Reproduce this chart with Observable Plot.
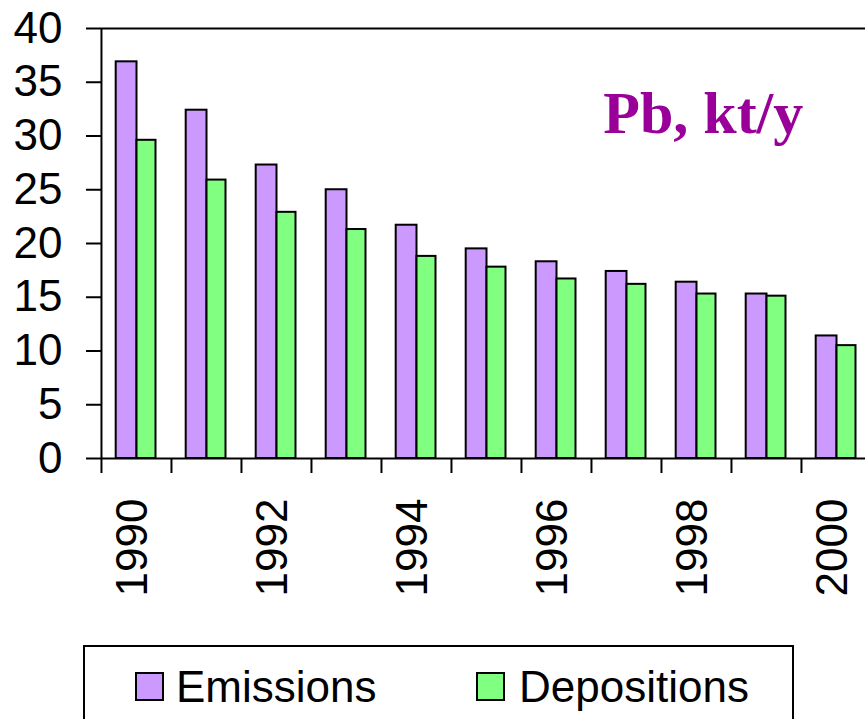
<!DOCTYPE html>
<html>
<head>
<meta charset="utf-8">
<script src="https://cdn.jsdelivr.net/npm/d3@7"></script>
<script src="https://cdn.jsdelivr.net/npm/@observablehq/plot@0.6"></script>
<style>
html, body { margin: 0; padding: 0; background: #fff; width: 865px; height: 719px; overflow: hidden; }
#chart { position: absolute; left: 0; top: 0; }
#legend { position: absolute; left: 83px; top: 645px; width: 711px; height: 100px; border: 2px solid #000; box-sizing: border-box; font-family: "Liberation Sans", Arial, sans-serif; font-size: 44px; color: #000; background: #fff; }
#legend .sw { position: absolute; top: 25px; width: 29px; height: 29px; border: 2px solid #000; box-sizing: border-box; }
#legend .lb { position: absolute; top: 18px; line-height: 44px; white-space: nowrap; }
</style>
</head>
<body>
<div id="chart"></div>
<div id="legend"></div>
<script>
// ---- data ----
const years = [1990, 1991, 1992, 1993, 1994, 1995, 1996, 1997, 1998, 1999, 2000];
const emissions = [36.9, 32.4, 27.3, 25.0, 21.7, 19.5, 18.3, 17.4, 16.4, 15.3, 11.4];
const depositions = [29.6, 25.9, 22.9, 21.3, 18.8, 17.8, 16.7, 16.2, 15.3, 15.1, 10.5];
const yTicks = [0, 5, 10, 15, 20, 25, 30, 35, 40];
const xLabelYears = [1990, 1992, 1994, 1996, 1998, 2000];
const seriesNames = ["Emissions", "Depositions"];
const seriesColors = ["#CC99FF", "#80FF80"];
const titleText = "Pb, kt/y";

// ---- layout ----
const W = 865, H = 640;
const mLeft = 101, mRight = -6.8, mTop = 28, mBottom = H - 458;
const bw = (W - mLeft - mRight) / years.length;

const emData = years.map((y, i) => ({year: y, value: emissions[i]}));
const depData = years.map((y, i) => ({year: y, value: depositions[i]}));

const chart = Plot.plot({
  width: W,
  height: H,
  marginLeft: mLeft,
  marginRight: mRight,
  marginTop: mTop,
  marginBottom: mBottom,
  style: {fontFamily: "'Liberation Sans', Arial, sans-serif", color: "#000", background: "#fff", overflow: "visible"},
  x: {type: "band", domain: years, padding: 0, axis: null, label: null},
  y: {domain: [0, 40], axis: null, label: null},
  marks: [
    Plot.barY(emData, {x: "year", y: "value", fill: seriesColors[0], stroke: "#000", strokeWidth: 2, insetLeft: 14.7, insetRight: 34.5}),
    Plot.barY(depData, {x: "year", y: "value", fill: seriesColors[1], stroke: "#000", strokeWidth: 2, insetLeft: 35.5, insetRight: 15.5}),
    Plot.ruleY([0], {stroke: "#000", strokeWidth: 2}),
    Plot.ruleY([40], {stroke: "#000", strokeWidth: 2}),
    Plot.ruleX([years[0]], {stroke: "#000", strokeWidth: 2, dx: -bw / 2}),
    Plot.axisY(yTicks, {label: null, tickSize: 15, tickPadding: 24, fontSize: 44, strokeWidth: 2, stroke: "#000", fill: "#000", tickFormat: d => String(d)}),
    Plot.axisX(years, {label: null, tickSize: 15, strokeWidth: 2, stroke: "#000", dx: -bw / 2, tickFormat: () => ""}),
    Plot.axisX(xLabelYears, {label: null, tickSize: 0, tickPadding: 40, rotate: -90, textAnchor: "end", lineAnchor: "middle", fontSize: 44, fill: "#000", dx: -4, tickFormat: d => String(d)}),
    Plot.text([titleText], {text: d => d, frameAnchor: "top-right", textAnchor: "end", lineAnchor: "middle", dx: -69, dy: 85, fontSize: 60, fontWeight: "bold", fontFamily: "'Liberation Serif', 'Times New Roman', serif", fill: "#990099"})
  ]
});
document.getElementById("chart").appendChild(chart);

// ---- legend ----
const legend = document.getElementById("legend");
const swLeft = [50, 391];
const lbLeft = [91, 434];
seriesNames.forEach((name, i) => {
  const sw = document.createElement("div");
  sw.className = "sw";
  sw.style.left = swLeft[i] + "px";
  sw.style.background = seriesColors[i];
  legend.appendChild(sw);
  const lb = document.createElement("div");
  lb.className = "lb";
  lb.style.left = lbLeft[i] + "px";
  lb.textContent = name;
  legend.appendChild(lb);
});
</script>
</body>
</html>
